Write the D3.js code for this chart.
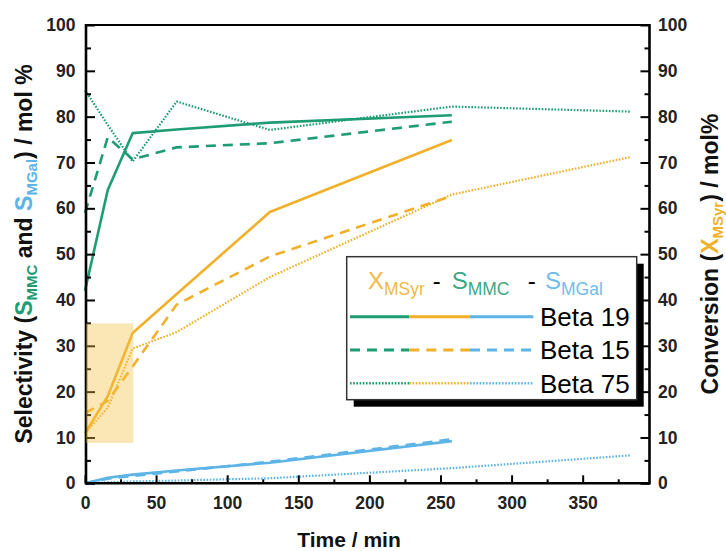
<!DOCTYPE html>
<html>
<head>
<meta charset="utf-8">
<script src="https://cdn.jsdelivr.net/npm/d3@7"></script>
<style>
  html, body { margin: 0; padding: 0; background: #fff; }
  svg { display: block; font-family: "Liberation Sans", Arial, sans-serif; }
</style>
</head>
<body>
<svg id="chart" width="726" height="551"></svg>
<script>
// Sampling times (min), as placed on the time axis
const timeMin = [0, 16, 33.5, 64.5, 130, 258, 384];

// Selectivity to MMC (mol %)
const sMMC_beta19 = [42, 64, 76.4, 77.2, 78.7, 80.3];
const sMMC_beta15 = [59, 75.5, 70.7, 73.3, 74.2, 78.9];
const sMMC_beta75 = [85.8, 78.2, 70.2, 83.3, 77.1, 82.2, 81.1];

// Conversion of MSyr (mol %)
const xMSyr_beta19 = [10.9, 19, 32.8, 41.3, 59.2, 74.9];
const xMSyr_beta15 = [15.3, 18, 25.5, 39, 49.5, 62.7];
const xMSyr_beta75 = [10.9, 16.5, 29.4, 33, 45, 63, 71.2];

// Selectivity to MGal (mol %)
const sMGal_beta19 = [0, 1.2, 1.9, 2.8, 4.5, 9.2];
const sMGal_beta15 = [0, 1.0, 1.6, 2.6, 4.7, 9.6];
const sMGal_beta75 = [0, 0.2, 0.4, 0.6, 1.1, 3.3, 6.1];

const catalysts = ["Beta 19", "Beta 15", "Beta 75"];
const xTicks = [0, 50, 100, 150, 200, 250, 300, 350];
const xMinorTicks = [25, 75, 125, 175, 225, 275, 325, 375];
const yTicks = [0, 10, 20, 30, 40, 50, 60, 70, 80, 90, 100];
const yMinorTicks = [5, 15, 25, 35, 45, 55, 65, 75, 85, 95];
// Highlighted early-time window: [t0, t1] x [y0, y1]
const zoomWindow = [0, 34, 8.8, 34.9];

const GREEN = "#1e9c72", ORANGE = "#f0b02a", BLUE = "#5db4e6";
const styles = {
  "Beta 19": { dash: null, width: 2.6 },
  "Beta 15": { dash: "10,7", width: 2.6 },
  "Beta 75": { dash: "1.6,1.6", width: 2.2 }
};

const svg = d3.select("#chart");
const plotL = 86, plotR = 649.5, plotT = 25, plotB = 483.3;

const x = d3.scaleLinear().domain([0, 397]).range([85, 649.5]);
const y = d3.scaleLinear().domain([0, 100]).range([plotB, plotT]);

const series = [
  { cat: "Beta 19", color: GREEN, v: sMMC_beta19 },
  { cat: "Beta 15", color: GREEN, v: sMMC_beta15 },
  { cat: "Beta 75", color: GREEN, v: sMMC_beta75 },
  { cat: "Beta 19", color: ORANGE, v: xMSyr_beta19 },
  { cat: "Beta 15", color: ORANGE, v: xMSyr_beta15 },
  { cat: "Beta 75", color: ORANGE, v: xMSyr_beta75 },
  { cat: "Beta 19", color: BLUE, v: sMGal_beta19 },
  { cat: "Beta 15", color: BLUE, v: sMGal_beta15 },
  { cat: "Beta 75", color: BLUE, v: sMGal_beta75 }
];

const line = d3.line()
  .x((d, i) => x(timeMin[i]))
  .y(d => y(d));

svg.append("g").selectAll("path")
  .data(series)
  .join("path")
  .attr("d", d => line(d.v))
  .attr("fill", "none")
  .attr("stroke", d => d.color)
  .attr("stroke-width", d => styles[d.cat].width)
  .attr("stroke-dasharray", d => styles[d.cat].dash)
  .attr("stroke-linejoin", "round");

// Axes (ticks point inward)
const tickFont = g => g.selectAll("text")
  .attr("font-family", "Liberation Sans, Arial, sans-serif")
  .attr("font-weight", "bold")
  .attr("font-size", 17.5)
  .attr("fill", "#222");
const tickStroke = g => {
  g.select(".domain").remove();
  g.selectAll("line").attr("stroke", "#000").attr("stroke-width", 2);
};

svg.append("g").attr("transform", `translate(0,${plotB})`)
  .call(d3.axisBottom(x).tickValues(xTicks).tickSize(-8).tickPadding(13).tickFormat(d3.format("d")))
  .call(tickStroke).call(tickFont);
svg.append("g").attr("transform", `translate(0,${plotB})`)
  .call(d3.axisBottom(x).tickValues(xMinorTicks).tickSize(-4).tickFormat(""))
  .call(tickStroke);

svg.append("g").attr("transform", `translate(${plotL},0)`)
  .call(d3.axisLeft(y).tickValues(yTicks).tickSize(-9).tickPadding(10.5).tickFormat(d3.format("d")))
  .call(tickStroke).call(tickFont);
svg.append("g").attr("transform", `translate(${plotL},0)`)
  .call(d3.axisLeft(y).tickValues(yMinorTicks).tickSize(-5).tickFormat(""))
  .call(tickStroke);

svg.append("g").attr("transform", `translate(${plotR},0)`)
  .call(d3.axisRight(y).tickValues(yTicks).tickSize(-9).tickPadding(8.5).tickFormat(d3.format("d")))
  .call(tickStroke).call(tickFont);
svg.append("g").attr("transform", `translate(${plotR},0)`)
  .call(d3.axisRight(y).tickValues(yMinorTicks).tickSize(-5).tickFormat(""))
  .call(tickStroke);

// Frame
const frame = svg.append("g").attr("stroke", "#000").attr("fill", "none");
frame.append("line").attr("x1", plotL).attr("x2", plotL).attr("y1", plotT - 1).attr("y2", plotB + 1.2).attr("stroke-width", 2.6);
frame.append("line").attr("x1", plotR).attr("x2", plotR).attr("y1", plotT - 1).attr("y2", plotB + 1.2).attr("stroke-width", 2.6);
frame.append("line").attr("x1", plotL).attr("x2", plotR).attr("y1", plotB).attr("y2", plotB).attr("stroke-width", 2.6);
frame.append("line").attr("x1", plotL).attr("x2", plotR).attr("y1", plotT).attr("y2", plotT).attr("stroke-width", 1.8);

// Highlighted early-time window
svg.append("rect")
  .attr("x", x(zoomWindow[0]) + 1)
  .attr("y", y(zoomWindow[3]))
  .attr("width", x(zoomWindow[1]) - x(zoomWindow[0]) - 1)
  .attr("height", y(zoomWindow[2]) - y(zoomWindow[3]))
  .attr("fill", "#f5c040")
  .attr("fill-opacity", 0.38);

// Axis titles
svg.append("text")
  .attr("x", 349).attr("y", 547)
  .attr("text-anchor", "middle")
  .attr("font-weight", "bold").attr("font-size", 21).attr("fill", "#111")
  .text("Time / min");

const leftTitle = svg.append("text")
  .attr("transform", "translate(31.5,254) rotate(-90)")
  .attr("text-anchor", "middle")
  .attr("font-weight", "bold").attr("font-size", 23).attr("fill", "#111");
leftTitle.append("tspan").text("Selectivity (");
leftTitle.append("tspan").attr("fill", GREEN).text("S");
leftTitle.append("tspan").attr("fill", GREEN).attr("font-size", 15).attr("dy", 5).text("MMC");
leftTitle.append("tspan").attr("dy", -5).text(" and ");
leftTitle.append("tspan").attr("fill", BLUE).text("S");
leftTitle.append("tspan").attr("fill", BLUE).attr("font-size", 15).attr("dy", 5).text("MGal");
leftTitle.append("tspan").attr("dy", -5).text(") / mol %");

const rightTitle = svg.append("text")
  .attr("transform", "translate(718,254) rotate(-90)")
  .attr("text-anchor", "middle")
  .attr("font-weight", "bold").attr("font-size", 23).attr("fill", "#111");
rightTitle.append("tspan").text("Conversion (");
rightTitle.append("tspan").attr("fill", ORANGE).text("X");
rightTitle.append("tspan").attr("fill", ORANGE).attr("font-size", 15).attr("dy", 5).text("MSyr");
rightTitle.append("tspan").attr("dy", -5).text(") / mol%");

// Legend
const lg = svg.append("g");
const lx = 346.7, ly = 256.7, lw = 290, lh = 143;
lg.append("rect").attr("x", lx + 7).attr("y", ly + 7).attr("width", lw).attr("height", lh).attr("fill", "#000");
lg.append("rect").attr("x", lx).attr("y", ly).attr("width", lw).attr("height", lh)
  .attr("fill", "#fff").attr("stroke", "#333").attr("stroke-width", 1.5);

const header = [
  { x: 368, main: "X", sub: "MSyr", color: ORANGE },
  { x: 451.7, main: "S", sub: "MMC", color: GREEN },
  { x: 545, main: "S", sub: "MGal", color: BLUE }
];
header.forEach(h => {
  const t = lg.append("text").attr("x", h.x).attr("y", 289)
    .attr("font-size", 24).attr("fill", h.color).attr("fill-opacity", 0.9);
  t.append("tspan").text(h.main);
  t.append("tspan").attr("font-size", 17.5).attr("dy", 6).text(h.sub);
});
[436.7, 531.7].forEach(cx => {
  lg.append("text").attr("x", cx).attr("y", 289).attr("text-anchor", "middle")
    .attr("font-size", 24).attr("fill", "#000").text("-");
});

const rowY = [316.7, 350, 383.3];
const segX = [350, 409.3, 470, 533.3];
const segColors = [GREEN, ORANGE, BLUE];
catalysts.forEach((c, i) => {
  segColors.forEach((col, j) => {
    lg.append("line")
      .attr("x1", segX[j]).attr("x2", segX[j + 1])
      .attr("y1", rowY[i]).attr("y2", rowY[i])
      .attr("stroke", col)
      .attr("stroke-width", styles[c].width + 0.3)
      .attr("stroke-dasharray", styles[c].dash);
  });
  lg.append("text").attr("x", 540).attr("y", rowY[i] + 9.3)
    .attr("font-size", 26).attr("fill", "#000").text(c);
});
</script>
</body>
</html>
